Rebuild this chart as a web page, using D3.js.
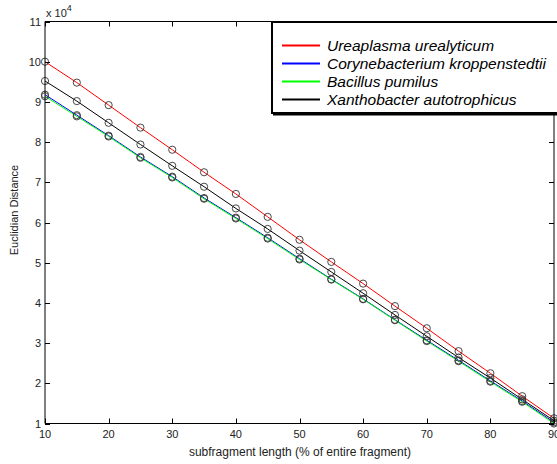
<!DOCTYPE html>
<html>
<head>
<meta charset="utf-8">
<script src="https://cdn.jsdelivr.net/npm/d3@7"></script>
<style>
  html, body { margin: 0; padding: 0; background: #fff; }
  svg { display: block; }
  text { font-family: "Liberation Sans", Arial, sans-serif; }
</style>
</head>
<body>
<svg id="chart" width="557" height="464"></svg>
<script>
// ---- data (values in units of 10^4) ----
const xValues = [10, 15, 20, 25, 30, 35, 40, 45, 50, 55, 60, 65, 70, 75, 80, 85, 90];
const ureaplasma = [10.00, 9.48, 8.92, 8.36, 7.81, 7.25, 6.71, 6.14, 5.57, 5.02, 4.48, 3.92, 3.37, 2.80, 2.25, 1.68, 1.13];
const corynebacterium = [9.18, 8.67, 8.16, 7.63, 7.14, 6.61, 6.12, 5.62, 5.10, 4.59, 4.10, 3.58, 3.07, 2.57, 2.06, 1.56, 1.03];
const bacillus = [9.14, 8.64, 8.14, 7.61, 7.12, 6.59, 6.10, 5.60, 5.08, 4.58, 4.09, 3.57, 3.05, 2.55, 2.04, 1.54, 1.00];
const xanthobacter = [9.52, 9.02, 8.48, 7.94, 7.41, 6.89, 6.35, 5.84, 5.30, 4.77, 4.24, 3.70, 3.17, 2.64, 2.13, 1.60, 1.07];
const seriesNames = ["Ureaplasma urealyticum", "Corynebacterium kroppenstedtii", "Bacillus pumilus", "Xanthobacter autotrophicus"];
const seriesColors = ["#ff0000", "#0000ff", "#00ff00", "#000000"];
const xTicks = [10, 20, 30, 40, 50, 60, 70, 80, 90];
const yTicks = [1, 2, 3, 4, 5, 6, 7, 8, 9, 10, 11];

const seriesValues = [ureaplasma, corynebacterium, bacillus, xanthobacter];

(function () {
const svg = d3.select("#chart");
const pLeft = 45, pRight = 554, pTop = 21.5, pBottom = 423.5;

const x = d3.scaleLinear().domain([10, 90]).range([pLeft, pRight]);
const y = d3.scaleLinear().domain([1, 11]).range([pBottom, pTop]);

const axisColor = "#000";
const labelColor = "#222";

// lines & markers
const line = d3.line().x(d => x(d[0])).y(d => y(d[1]));
seriesValues.forEach((vals, i) => {
  const pts = xValues.map((xv, j) => [xv, vals[j]]);
  svg.append("path")
    .attr("d", line(pts))
    .attr("fill", "none")
    .attr("stroke", seriesColors[i])
    .attr("stroke-width", 1);
});
seriesValues.forEach((vals, i) => {
  const pts = xValues.map((xv, j) => [xv, vals[j]]);
  svg.append("g").selectAll("circle").data(pts).enter().append("circle")
    .attr("cx", d => x(d[0]))
    .attr("cy", d => y(d[1]))
    .attr("r", 3.6)
    .attr("fill", "none")
    .attr("stroke", "#333")
    .attr("stroke-width", 0.9);
});

// box axes
const axes = svg.append("g");
axes.append("line").attr("x1", pLeft).attr("x2", pRight).attr("y1", pBottom).attr("y2", pBottom).attr("stroke", axisColor);
axes.append("line").attr("x1", pLeft).attr("x2", pRight).attr("y1", pTop).attr("y2", pTop).attr("stroke", axisColor);
axes.append("line").attr("x1", pLeft).attr("x2", pLeft).attr("y1", pTop).attr("y2", pBottom).attr("stroke", axisColor);
axes.append("line").attr("x1", pRight).attr("x2", pRight).attr("y1", pTop).attr("y2", pBottom).attr("stroke", axisColor);

xTicks.forEach(t => {
  const px = Math.round(x(t)) + 0.5;
  axes.append("line").attr("x1", px).attr("x2", px).attr("y1", pBottom).attr("y2", pBottom - 5).attr("stroke", axisColor);
  axes.append("line").attr("x1", px).attr("x2", px).attr("y1", pTop).attr("y2", pTop + 5).attr("stroke", axisColor);
  axes.append("text").attr("x", x(t)).attr("y", pBottom + 14)
    .attr("text-anchor", "middle").attr("font-size", 11).attr("fill", labelColor).text(t);
});
yTicks.forEach(t => {
  const py = Math.round(y(t)) + 0.5;
  axes.append("line").attr("x1", pLeft).attr("x2", pLeft + 5).attr("y1", py).attr("y2", py).attr("stroke", axisColor);
  axes.append("line").attr("x1", pRight).attr("x2", pRight - 5).attr("y1", py).attr("y2", py).attr("stroke", axisColor);
  axes.append("text").attr("x", pLeft - 4).attr("y", y(t) + 4)
    .attr("text-anchor", "end").attr("font-size", 11).attr("fill", labelColor).text(t);
});

// exponent label
const ex = svg.append("text").attr("x", 46).attr("y", 17).attr("font-size", 11).attr("fill", labelColor);
ex.append("tspan").text("x 10");
ex.append("tspan").attr("dy", -6).attr("font-size", 9).text("4");

// axis labels
svg.append("text").attr("x", 300).attr("y", 456)
  .attr("text-anchor", "middle").attr("font-size", 12).attr("fill", labelColor)
  .text("subfragment length (% of entire fragment)");
svg.append("text").attr("transform", "translate(18,210) rotate(-90)")
  .attr("text-anchor", "middle").attr("font-size", 11).attr("fill", labelColor)
  .text("Euclidian Distance");

// legend
const lg = svg.append("g");
lg.append("rect").attr("x", 272).attr("y", 22).attr("width", 300).attr("height", 91)
  .attr("fill", "#fff").attr("stroke", "#000").attr("stroke-width", 2);
lg.append("line").attr("x1", 273).attr("x2", 560).attr("y1", 114.5).attr("y2", 114.5)
  .attr("stroke", "#000").attr("stroke-width", 2);
seriesNames.forEach((name, i) => {
  const ly = 45.5 + i * 18;
  lg.append("line").attr("x1", 282).attr("x2", 320).attr("y1", ly).attr("y2", ly)
    .attr("stroke", seriesColors[i]).attr("stroke-width", 2);
  lg.append("text").attr("x", 327).attr("y", ly + 5.5)
    .attr("font-size", 15.5).attr("font-style", "italic").attr("fill", "#000")
    .text(name);
});
})();
</script>
</body>
</html>
